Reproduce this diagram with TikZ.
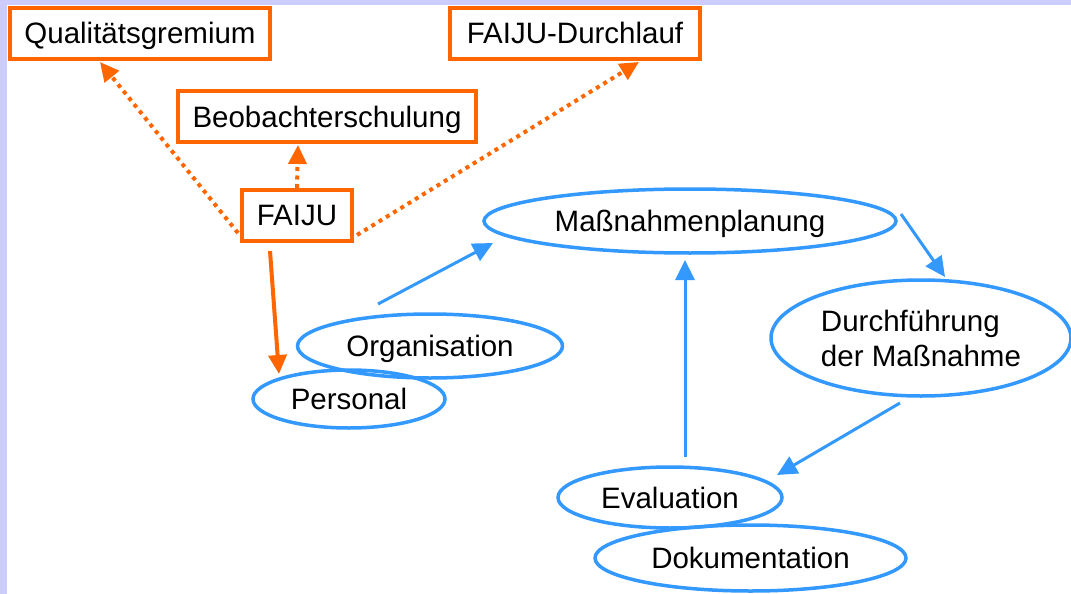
\documentclass[tikz,border=0pt]{standalone}
\usepackage{fontspec}
\setmainfont{Liberation Sans}
\usetikzlibrary{shapes.geometric,arrows.meta,calc}
\definecolor{orng}{HTML}{FF6600}
\definecolor{blu}{HTML}{3399FF}
\definecolor{lav}{HTML}{CCCCFF}
\begin{document}
\begin{tikzpicture}[x=1pt,y=-1pt,
  every node/.style={font=\fontsize{29.5}{35}\selectfont, text=black},
  ctext/.style={text height=21pt, text depth=0pt},
  obox/.style={draw=orng, line width=4pt, rectangle, inner sep=0pt, minimum height=51pt, ctext},
  bell/.style={draw=blu, line width=3.5pt, ellipse, inner sep=0pt},
  otip/.style={-{Triangle[length=19pt,width=18pt]}},
  odot/.style={draw=orng, line width=4pt, dash pattern=on 4pt off 4.5pt, otip},
  osol/.style={draw=orng, line width=4pt, otip},
  barr/.style={draw=blu, line width=3pt, -{Triangle[length=20pt,width=19pt]}}
]
\fill[lav] (0,0) rectangle (1071,594);
\fill[white] (7,5) rectangle (1071,594);
\useasboundingbox (0,0) rectangle (1071,594);

\node[obox, minimum width=260pt] (qual) at (140,33.5) {Qualitätsgremium};
\node[obox, minimum width=298pt] (beob) at (327,116.5) {Beobachterschulung};
\node[obox, minimum width=250pt] (dl) at (575,33.5) {FAIJU-Durchlauf};
\node[obox, minimum width=110pt] (faiju) at (297,215) {FAIJU};

\node[bell, ctext, minimum width=412pt, minimum height=64pt] (mp) at (690,221) {Maßnahmenplanung};
\node[bell, ctext, minimum width=192pt, minimum height=58pt] (pers) at (349,399) {Personal};
\node[bell, ctext, minimum width=265pt, minimum height=64pt] (org) at (430,346) {Organisation};
\node[bell, minimum width=300pt, minimum height=116pt, align=left] (durch) at (921,338) {Durchführung\\der Maßnahme};
\node[bell, ctext, minimum width=224pt, minimum height=61pt] (eval) at (670,497.5) {Evaluation};
\node[bell, ctext, minimum width=311pt, minimum height=66pt] (doku) at (750.5,558) {Dokumentation};

\draw[odot] ($(faiju.center)+(-59,18)$) -- ($(qual.center)+(-40,28.5)$);
\draw[odot] ($(faiju.center)+(0,-27)$) -- ($(beob.center)+(-29,28.5)$);
\draw[odot] ($(faiju.center)+(60,20)$) -- ($(dl.center)+(64,28.5)$);
\draw[osol] ($(faiju.center)+(-27,36)$) -- ($(pers.center)+(-70,-25)$);

\draw[barr] ($(org.center)+(-52,-42)$) -- ($(mp.center)+(-197,22)$);
\draw[barr] ($(mp.center)+(211,-7)$) -- ($(durch.center)+(24,-61)$);
\draw[barr] ($(durch.center)+(-21,65)$) -- ($(eval.center)+(107,-22.5)$);
\draw[barr] ($(eval.center)+(15,-40.5)$) -- ($(mp.center)+(-5,39)$);
\end{tikzpicture}
\end{document}
